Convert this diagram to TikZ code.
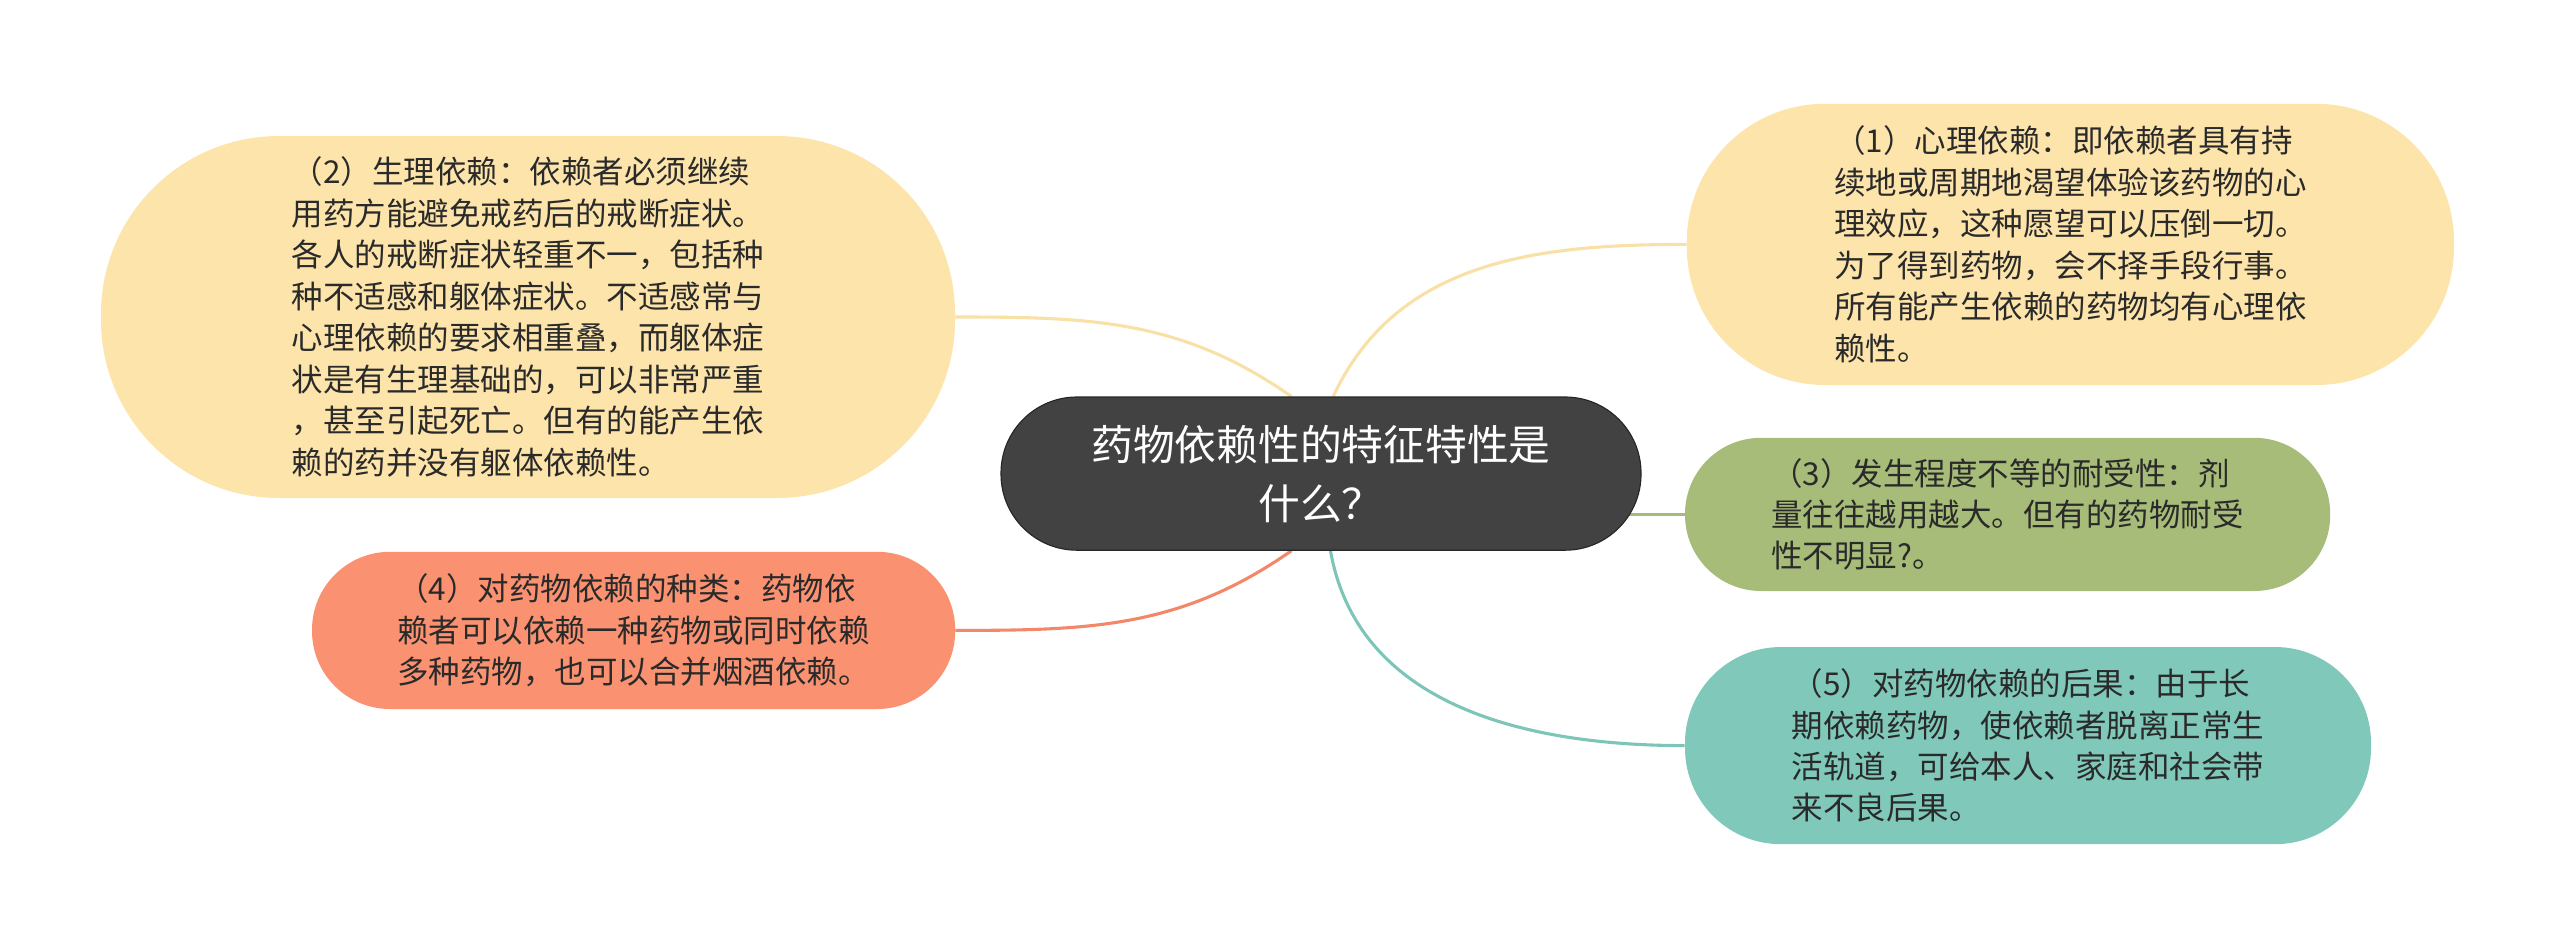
\documentclass[tikz,border=0pt]{standalone}
\usepackage{fontspec}
\setmainfont{Noto Sans CJK SC}
\usetikzlibrary{positioning}
\definecolor{topicgray}{HTML}{424242}
\definecolor{topicedge}{HTML}{262626}
\definecolor{ideayellow}{HTML}{FCE4AB}
\definecolor{ideagreen}{HTML}{A6BC78}
\definecolor{ideaorange}{HTML}{FA9272}
\definecolor{ideateal}{HTML}{80C9BA}
\definecolor{textgray}{HTML}{2A2A2A}
\definecolor{lineyellow}{HTML}{F8E0A6}
\definecolor{linegreen}{HTML}{A5BB77}
\definecolor{lineorange}{HTML}{F3876A}
\definecolor{lineteal}{HTML}{7DC5B8}
\pgfdeclarelayer{bg}
\pgfsetlayers{bg,main}

\begin{document}
\begin{tikzpicture}[
    topic/.style={draw=topicedge, line width=0.8pt, fill=topicgray, text=white, align=center, inner sep=0pt,
        font=\fontsize{29.7}{42}\selectfont},
    idea/.style={fill=#1, text=textgray, align=left, inner sep=0pt,
        font=\fontsize{22.4}{29.5}\selectfont},
    link/.style={line width=2.2pt}
]
\useasboundingbox (0,0) rectangle (64,-23.725);

\node[topic, rounded corners=1.9cm, minimum width=16cm, minimum height=3.83cm] at (33.025,-11.84) (center)
    {药物依赖性的特征特性是\\什么？};

\node[idea=ideayellow, rounded corners=3.45cm, minimum width=19.18cm, minimum height=7.03cm] at (51.76,-6.11) (psych)
    {（1）心理依赖：即依赖者具有持\\续地或周期地渴望体验该药物的心\\理效应，这种愿望可以压倒一切。\\为了得到药物，会不择手段行事。\\所有能产生依赖的药物均有心理依\\赖性。};
\node[idea=ideayellow, rounded corners=4.45cm, minimum width=21.35cm, minimum height=9.05cm] at (13.2,-7.925) (physio)
    {（2）生理依赖：依赖者必须继续\\用药方能避免戒药后的戒断症状。\\各人的戒断症状轻重不一，包括种\\种不适感和躯体症状。不适感常与\\心理依赖的要求相重叠，而躯体症\\状是有生理基础的，可以非常严重\\，甚至引起死亡。但有的能产生依\\赖的药并没有躯体依赖性。};
\node[idea=ideagreen, rounded corners=1.9cm, minimum width=16.13cm, minimum height=3.83cm] at (50.19,-12.86) (toler)
    {（3）发生程度不等的耐受性：剂\\量往往越用越大。但有的药物耐受\\性不明显?。};
\node[idea=ideaorange, rounded corners=1.95cm, minimum width=16.08cm, minimum height=3.93cm] at (15.84,-15.76) (kinds)
    {（4）对药物依赖的种类：药物依\\赖者可以依赖一种药物或同时依赖\\多种药物，也可以合并烟酒依赖。};
\node[idea=ideateal, rounded corners=2.4cm, minimum width=17.15cm, minimum height=4.93cm] at (50.7,-18.64) (result)
    {（5）对药物依赖的后果：由于长\\期依赖药物，使依赖者脱离正常生\\活轨道，可给本人、家庭和社会带\\来不良后果。};

% branches
\begin{pgfonlayer}{bg}
\draw[link, lineyellow] (center.111) to[out=145, in=0] (physio.east);
\draw[link, lineyellow] (center.81) to[out=65, in=180] (psych.west);
\draw[link, linegreen] (toler.west -| center.center) -- (toler.west);
\draw[link, lineorange] (center.249) to[out=215, in=0] (kinds.east);
\draw[link, lineteal] (center.277) to[out=-80, in=180] (result.west);
\end{pgfonlayer}
\end{tikzpicture}
\end{document}
